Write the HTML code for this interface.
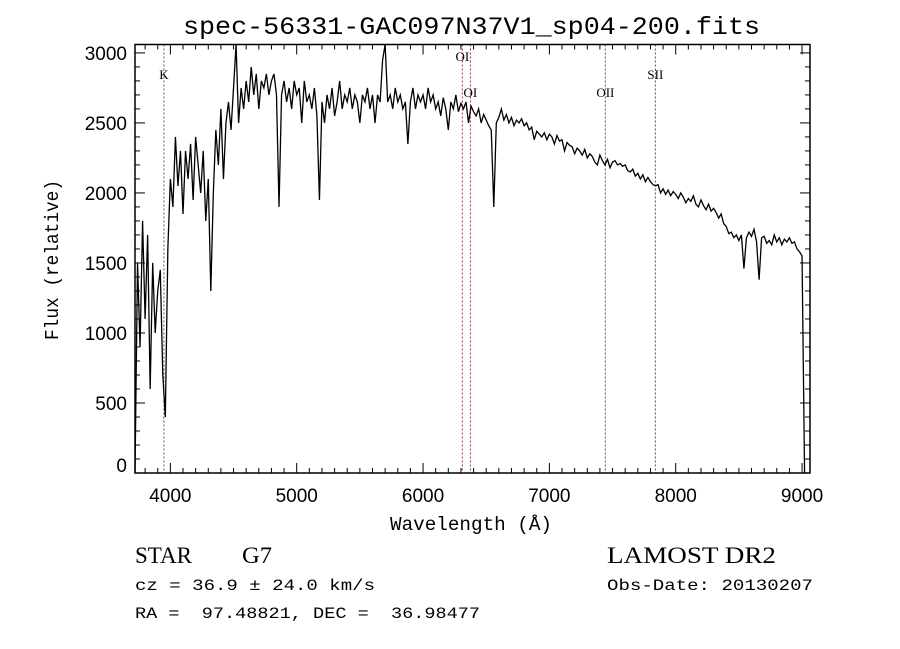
<!DOCTYPE html>
<html><head><meta charset="utf-8"><style>
html,body{margin:0;padding:0;background:#fff;}
svg{display:block;}
text{fill:#000;white-space:pre;}
</style></head><body>
<svg id="chart" width="900" height="649" viewBox="0 0 900 649" xmlns="http://www.w3.org/2000/svg" xml:space="preserve">
<rect x="0" y="0" width="900" height="649" fill="#fff"/>
<text x="183" y="34" font-family="Liberation Mono, monospace" font-size="25" textLength="577" lengthAdjust="spacingAndGlyphs">spec-56331-GAC097N37V1_sp04-200.fits</text>
<g id="lines"></g>
<g id="spec"></g>
<g id="axes"></g>
<text x="390" y="530" font-family="Liberation Mono, monospace" font-size="19" textLength="162" lengthAdjust="spacingAndGlyphs">Wavelength (Å)</text>
<text transform="translate(58,340) rotate(-90)" font-family="Liberation Mono, monospace" font-size="19" textLength="160" lengthAdjust="spacingAndGlyphs">Flux (relative)</text>
<text x="135" y="563" font-family="Liberation Serif, serif" font-size="23" textLength="57" lengthAdjust="spacingAndGlyphs">STAR</text>
<text x="242" y="563" font-family="Liberation Serif, serif" font-size="23" textLength="30" lengthAdjust="spacingAndGlyphs">G7</text>
<text x="607" y="563" font-family="Liberation Serif, serif" font-size="23" textLength="169" lengthAdjust="spacingAndGlyphs">LAMOST DR2</text>
<text x="135" y="590" font-family="Liberation Mono, monospace" font-size="16" textLength="240" lengthAdjust="spacingAndGlyphs">cz = 36.9 ± 24.0 km/s</text>
<text x="607" y="590" font-family="Liberation Mono, monospace" font-size="16" textLength="206" lengthAdjust="spacingAndGlyphs">Obs-Date: 20130207</text>
<text x="135" y="618" font-family="Liberation Mono, monospace" font-size="16" textLength="345" lengthAdjust="spacingAndGlyphs">RA =  97.48821, DEC =  36.98477</text>
</svg>
<script>
const wlStart = 3720, wlStep = 20;
const flux = [
0,1500,900,1800,1100,1700,600,1500,1000,1300,
1450,700,400,1600,2100,1900,2400,2050,2300,1850,
2300,2100,2350,1950,2400,2200,2000,2300,1800,2100,
1300,2000,2450,2200,2600,2100,2500,2650,2450,2750,
3100,2500,2750,2600,2800,2650,2900,2700,2850,2600,
2800,2750,2850,2700,2800,2850,2700,1900,2700,2800,
2650,2750,2600,2800,2700,2750,2500,2800,2650,2700,
2600,2750,2550,1950,2650,2500,2700,2600,2750,2550,
2650,2800,2600,2700,2650,2750,2600,2700,2650,2500,
2700,2650,2750,2600,2700,2500,2700,2650,2950,3100,
2650,2700,2600,2750,2650,2700,2600,2650,2350,2650,
2750,2600,2700,2650,2700,2600,2750,2650,2700,2600,
2650,2550,2680,2600,2450,2650,2600,2700,2580,2640,
2600,2650,2500,2620,2580,2550,2600,2500,2560,2520,
2480,2450,1900,2500,2540,2600,2520,2560,2500,2540,
2480,2520,2500,2530,2480,2500,2450,2470,2380,2440,
2420,2400,2430,2380,2420,2400,2350,2410,2370,2380,
2300,2360,2340,2330,2280,2320,2300,2270,2310,2250,
2280,2260,2220,2200,2270,2230,2200,2240,2180,2220,
2230,2200,2210,2190,2200,2160,2150,2170,2120,2140,
2100,2130,2080,2110,2080,2060,2050,2060,2000,2030,
1990,2020,1980,2010,1990,1960,2000,1970,1930,1960,
1940,1980,1920,1900,1950,1910,1880,1920,1870,1890,
1860,1820,1850,1780,1760,1710,1720,1680,1700,1660,
1700,1460,1680,1720,1690,1740,1650,1380,1680,1690,
1640,1660,1630,1700,1650,1680,1630,1670,1650,1680,
1640,1650,1600,1580,1550,0
];
const xTicks = [4000,5000,6000,7000,8000,9000];
const yTicks = [0,500,1000,1500,2000,2500,3000];
const lineNames = ["K","OI","OI","OII","SII"];
const lineWaves = [3949,6311,6375,7443,7839];
const lineLabelRow = [1,0,2,2,1];

const NS="http://www.w3.org/2000/svg";
const L=135,R=810,T=44.5,B=473;
const X0=3720,X1=9063,Y0=0,Y1=3060;
function xs(w){return L+(w-X0)/(X1-X0)*(R-L);}
function ys(f){return B-(f-Y0)/(Y1-Y0)*(B-T);}
function mk(tag,attrs,parent){const e=document.createElementNS(NS,tag);for(const k in attrs)e.setAttribute(k,attrs[k]);parent.appendChild(e);return e;}

const lg=document.getElementById('lines');
lineWaves.forEach((w,i)=>{
  const x=xs(w);
  const ln=mk('line',{x1:x,x2:x,y1:T,y2:B,stroke:'#8b3a3a','stroke-width':1,'stroke-dasharray':'2,2'},lg);
  
  
  const ty=[61,79,97][lineLabelRow[i]];
  const t=mk('text',{x:x,y:ty,'text-anchor':'middle','font-family':'Liberation Serif, serif','font-size':13},lg);
  t.textContent=lineNames[i];
  
  
});

const sg=document.getElementById('spec');
let d='';
flux.forEach((f,i)=>{const w=wlStart+i*wlStep;const y=Math.max(T,Math.min(B,ys(f)));d+=(i?'L':'M')+xs(w).toFixed(2)+','+y.toFixed(2);});
const p=mk('path',{d:d,fill:'none',stroke:'#000','stroke-width':1.3,'stroke-linejoin':'miter'},sg);



const ag=document.getElementById('axes');
const fr=mk('rect',{x:L,y:T,width:R-L,height:B-T,fill:'none',stroke:'#000','stroke-width':1.5},ag);


for(let w=3800;w<=9000;w+=100){
  const x=xs(w);const major=(w%1000===0);const len=major?10:5;
  mk('line',{x1:x,x2:x,y1:B,y2:B-len,stroke:'#000','stroke-width':1},ag);
  mk('line',{x1:x,x2:x,y1:T,y2:T+len,stroke:'#000','stroke-width':1},ag);
}
for(let f=0;f<=3000;f+=100){
  const y=ys(f);const major=(f%500===0);const len=major?10:5;
  mk('line',{x1:L,x2:L+len,y1:y,y2:y,stroke:'#000','stroke-width':1},ag);
  mk('line',{x1:R,x2:R-len,y1:y,y2:y,stroke:'#000','stroke-width':1},ag);
}
xTicks.forEach(v=>{
  const t=mk('text',{x:xs(v),y:502,'text-anchor':'middle','font-family':'Liberation Sans, sans-serif','font-size':19},ag);
  t.textContent=v;
  
  
});
yTicks.forEach(v=>{
  const y=Math.min(ys(v)+7, 472);
  const t=mk('text',{x:127,y:v===0?472:y,'text-anchor':'end','font-family':'Liberation Sans, sans-serif','font-size':19},ag);
  t.textContent=v;
  
  
});
</script>
</body></html>
